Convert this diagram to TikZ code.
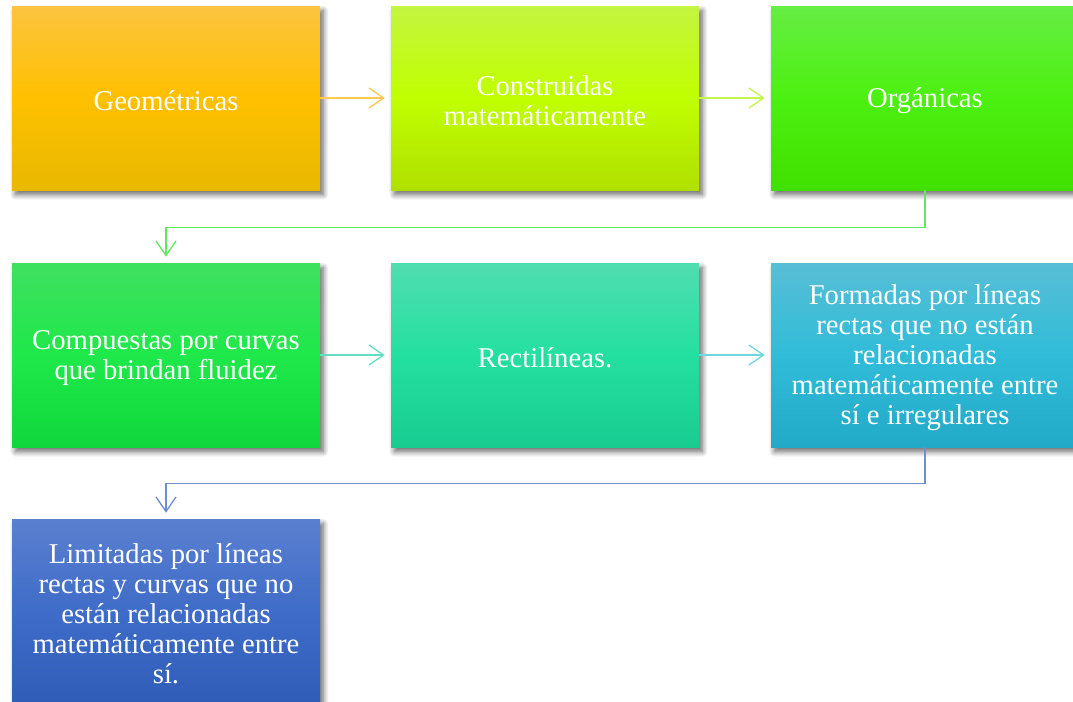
\documentclass[tikz,border=0pt]{standalone}
\usepackage{fontspec}
\setmainfont{Liberation Serif}
\usetikzlibrary{shadows.blur,arrows.meta}
\definecolor{aT}{RGB}{252,196,64}\definecolor{aM}{RGB}{255,192,0}\definecolor{aB}{RGB}{232,184,0}
\definecolor{bT}{RGB}{196,245,64}\definecolor{bM}{RGB}{192,255,0}\definecolor{bB}{RGB}{176,224,0}
\definecolor{cT}{RGB}{102,238,68}\definecolor{cM}{RGB}{76,240,16}\definecolor{cB}{RGB}{64,224,0}
\definecolor{dT}{RGB}{64,224,96}\definecolor{dM}{RGB}{30,232,74}\definecolor{dB}{RGB}{16,216,60}
\definecolor{eT}{RGB}{80,221,176}\definecolor{eM}{RGB}{36,224,160}\definecolor{eB}{RGB}{24,204,144}
\definecolor{fT}{RGB}{88,190,214}\definecolor{fM}{RGB}{48,188,216}\definecolor{fB}{RGB}{34,170,200}
\definecolor{gT}{RGB}{90,128,208}\definecolor{gM}{RGB}{63,108,200}\definecolor{gB}{RGB}{47,93,184}
\definecolor{k1}{RGB}{255,200,80}\definecolor{k2}{RGB}{196,245,80}\definecolor{k3}{RGB}{96,232,96}
\definecolor{k4}{RGB}{96,224,192}\definecolor{k5}{RGB}{112,214,224}\definecolor{k6}{RGB}{110,142,208}
\begin{document}
\begin{tikzpicture}[x=0.75pt,y=-0.75pt,
 box/.style={minimum width=231pt, minimum height=138pt, inner sep=0pt,
   blur shadow={shadow xshift=2.5pt, shadow yshift=-3.5pt, shadow blur radius=4pt, shadow blur steps=8, shadow opacity=60}},
 txt/.style={inner sep=0pt, align=center, text=white, font=\fontsize{21.5}{22.5}\selectfont},
 sh/.style n args={3}{top color=#1, bottom color=#3, middle color=#2},
 conn/.style={line width=1pt, -{Straight Barb[length=11pt,width=15pt]}, shorten >=4.5pt}]
\useasboundingbox (0,0) rectangle (1073,701);
\node[box, sh={aT}{aM}{aB}] (b1) at (166,98) {};
\node[box, sh={bT}{bM}{bB}] (b2) at (545,98) {};
\node[box, sh={cT}{cM}{cB}] (b3) at (925,98) {};
\node[box, sh={dT}{dM}{dB}] (b4) at (166,355) {};
\node[box, sh={eT}{eM}{eB}] (b5) at (545,355) {};
\node[box, sh={fT}{fM}{fB}] (b6) at (925,355) {};
\node[box, sh={gT}{gM}{gB}] (b7) at (166,611) {};
\node[txt] (t1) at ([yshift=-2.25pt]b1.center) {Geométricas};
\node[txt] (t2) at ([yshift=-2.25pt]b2.center) {Construidas\\matemáticamente};
\node[txt] (t3) at ([yshift=-2.25pt]b3.center) {Orgánicas};
\node[txt] (t4) at ([yshift=-2.25pt]b4.center) {Compuestas por curvas\\que brindan fluidez};
\node[txt] (t5) at ([yshift=-2.25pt]b5.center) {Rectilíneas.};
\node[txt] (t6) at ([yshift=-2.25pt]b6.center) {Formadas por líneas\\rectas que no están\\relacionadas\\matemáticamente entre\\sí e irregulares};
\node[txt] (t7) at ([yshift=-2.25pt]b7.center) {Limitadas por líneas\\rectas y curvas que no\\están relacionadas\\matemáticamente entre\\sí.};
\draw[conn, k1] (b1.east) -- (b2.west);
\draw[conn, k2] (b2.east) -- (b3.west);
\draw[conn, k3] (b3.south) -- ++(0,37) -| (b4.north);
\draw[conn, k4] (b4.east) -- (b5.west);
\draw[conn, k5] (b5.east) -- (b6.west);
\draw[conn, k6] (b6.south) -- ++(0,36) -| (b7.north);
\end{tikzpicture}
\end{document}
